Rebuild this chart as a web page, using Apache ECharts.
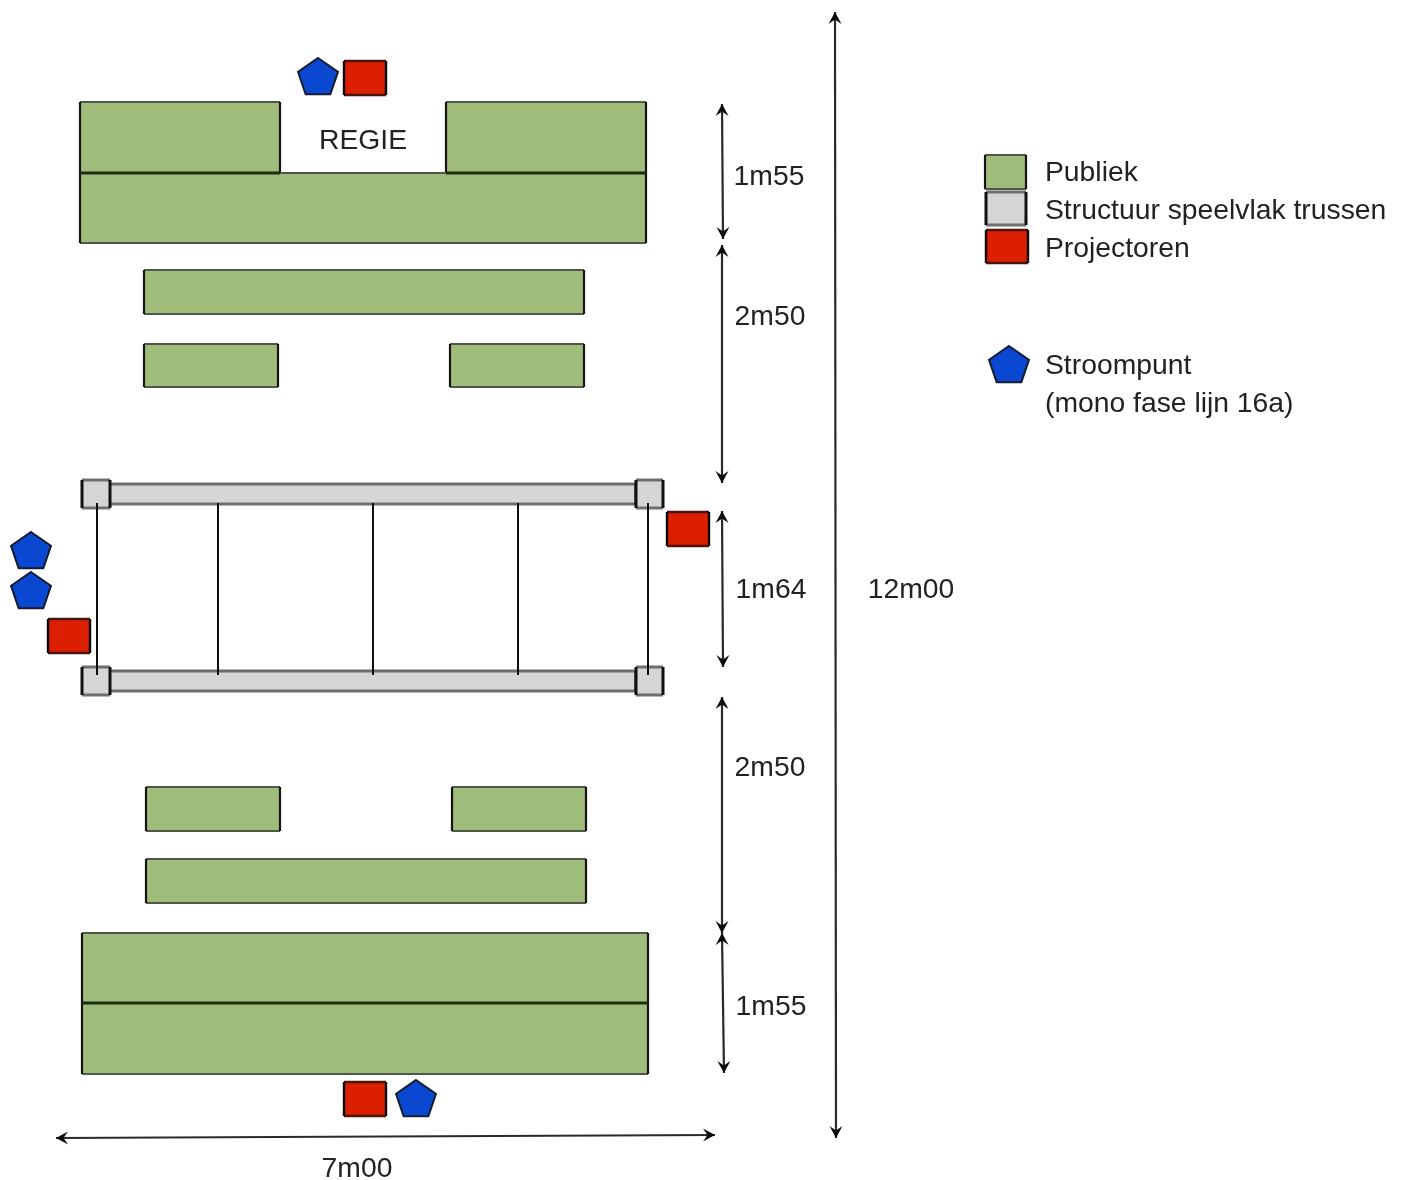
<!DOCTYPE html>
<html><head><meta charset="utf-8">
<style>html,body{margin:0;padding:0;background:#fff}#c{width:1403px;height:1180px;filter:blur(0.6px)}</style>
<script src="https://cdn.jsdelivr.net/npm/echarts@6/dist/echarts.min.js"></script>
</head><body><div id="c"></div>
<script>
const publiekBlocks = [[80,102,280,173],[446,102,646,173],[80,173,646,243],[144,270,584,314],[144,344,278,387],[450,344,584,387],[146,787,280,831],[452,787,586,831],[146,859,586,903],[82,933,648,1003],[82,1003,648,1074],[985,155,1026,189]];
const dividers = [[80,173,280,173],[446,173,646,173],[82,1003,648,1003]];
const trussBars = [[108,484,636,504],[108,671,636,691],[986,192,1026,225]];
const trussCorners = [[82,480,110,508],[636,480,663,508],[82,667,110,695],[636,667,663,695]];
const projectors = [[344,61,386,95],[667,512,709,546],[48,619,90,653],[344,1082,386,1116],[986,230,1028,263]];
const powerPoints = [[318,78,21],[31,552,21],[31,592,21],[416,1100,21],[1009,366,21]];
const struts = [[97,503,97,675],[218,503,218,675],[373,503,373,675],[518,503,518,675],[648,503,648,675]];
const dimensions = [[722,104,723,239],[722,245,722,483],[722,511,723,667],[722,697,722,933],[722,933,724,1073],[835,12,836,1138],[56,1138,715,1135]];
const dimLabels = [["1m55",769,177],["2m50",770,317],["1m64",771,590],["2m50",770,768],["1m55",771,1007],["12m00",911,590],["7m00",357,1169],["REGIE",363,141]];
const legendLabels = [["Publiek",1045,173],["Structuur speelvlak trussen",1045,211],["Projectoren",1045,249],["Stroompunt",1045,366],["(mono fase lijn 16a)",1045,404]];

const GREEN='#a0bc7b', GRAY='#d5d5d5', RED='#dc1f00', BLUE='#0a48d2', INK='#222222';

function rectItem(fill, hEdge, vEdge, w){
  return function(p, api){
    const a=api.coord([api.value(0),api.value(1)]), b=api.coord([api.value(2),api.value(3)]);
    const ln=(x1,y1,x2,y2,c)=>({type:'line',shape:{x1,y1,x2,y2},style:{stroke:c,lineWidth:w}});
    return {type:'group',children:[
      {type:'rect',shape:{x:a[0],y:a[1],width:b[0]-a[0],height:b[1]-a[1]},style:{fill}},
      ln(a[0],a[1],b[0],a[1],hEdge), ln(a[0],b[1],b[0],b[1],hEdge),
      ln(a[0],a[1],a[0],b[1],vEdge), ln(b[0],a[1],b[0],b[1],vEdge)
    ]};
  };
}
function rectSeries(data, fill, hEdge, vEdge, w, z){
  return {type:'custom',coordinateSystem:'cartesian2d',data,z,silent:true,renderItem:rectItem(fill,hEdge,vEdge,w),encode:{x:[0,2],y:[1,3]}};
}
function lineSeries(data, color, w, z){
  return {type:'custom',coordinateSystem:'cartesian2d',data,z,silent:true,encode:{x:[0,2],y:[1,3]},
    renderItem(p,api){
      const a=api.coord([api.value(0),api.value(1)]), b=api.coord([api.value(2),api.value(3)]);
      return {type:'line',shape:{x1:a[0],y1:a[1],x2:b[0],y2:b[1]},style:{stroke:color,lineWidth:w}};
    }};
}
function head(x,y,ang){
  const L=12,W=6.5,N=7.5, c=Math.cos(ang), s=Math.sin(ang);
  const pt=(u,v)=>[x+u*c-v*s,y+u*s+v*c];
  return {type:'polygon',shape:{points:[pt(0,0),pt(-L,-W),pt(-N,0),pt(-L,W)]},style:{fill:'#0c0c0c'}};
}
function textSeries(data, align, z){
  return {type:'custom',coordinateSystem:'cartesian2d',data,z,silent:true,encode:{x:1,y:2},
    renderItem(p,api){
      const c=api.coord([api.value(1),api.value(2)]);
      return {type:'text',style:{x:c[0],y:c[1],text:data[p.dataIndex][0],fill:INK,font:'28.3px "Liberation Sans"',align,verticalAlign:'middle'}};
    }};
}
const option={
  animation:false,
  backgroundColor:'#fff',
  grid:{left:0,right:0,top:0,bottom:0},
  xAxis:{type:'value',min:0,max:1403,show:false},
  yAxis:{type:'value',min:0,max:1180,inverse:true,show:false},
  series:[
    rectSeries(publiekBlocks,GREEN,'#4f5748','#141414',2.2,2),
    lineSeries(dividers,'#1f2c12',3,3),
    rectSeries(trussBars,GRAY,'#6e6e6e','#101010',3,3),
    rectSeries(trussCorners,GRAY,'#6e6e6e','#101010',3,4),
    rectSeries(projectors,RED,'#4a1408','#0c0605',2.4,5),
    {type:'custom',coordinateSystem:'cartesian2d',data:powerPoints,z:6,silent:true,encode:{x:0,y:1},
     renderItem(p,api){
       const c=api.coord([api.value(0),api.value(1)]), r=api.value(2), pts=[];
       for(let i=0;i<5;i++){const t=-Math.PI/2+i*2*Math.PI/5;pts.push([c[0]+r*Math.cos(t),c[1]+0.95*r*Math.sin(t)]);}
       return {type:'polygon',shape:{points:pts},style:{fill:BLUE,stroke:'#141c30',lineWidth:2}};
     }},
    lineSeries(struts,'#0e0e0e',2,7),
    {type:'custom',coordinateSystem:'cartesian2d',data:dimensions,z:8,silent:true,encode:{x:[0,2],y:[1,3]},
     renderItem(p,api){
       const a=api.coord([api.value(0),api.value(1)]), b=api.coord([api.value(2),api.value(3)]);
       const ang=Math.atan2(b[1]-a[1],b[0]-a[0]);
       return {type:'group',children:[
         {type:'line',shape:{x1:a[0],y1:a[1],x2:b[0],y2:b[1]},style:{stroke:'#2a2a2a',lineWidth:2.2}},
         head(b[0],b[1],ang), head(a[0],a[1],ang+Math.PI)
       ]};
     }},
    textSeries(dimLabels,'center',9),
    textSeries(legendLabels,'left',9)
  ]
};
echarts.init(document.getElementById('c'),null,{renderer:'canvas'}).setOption(option);
</script></body></html>
